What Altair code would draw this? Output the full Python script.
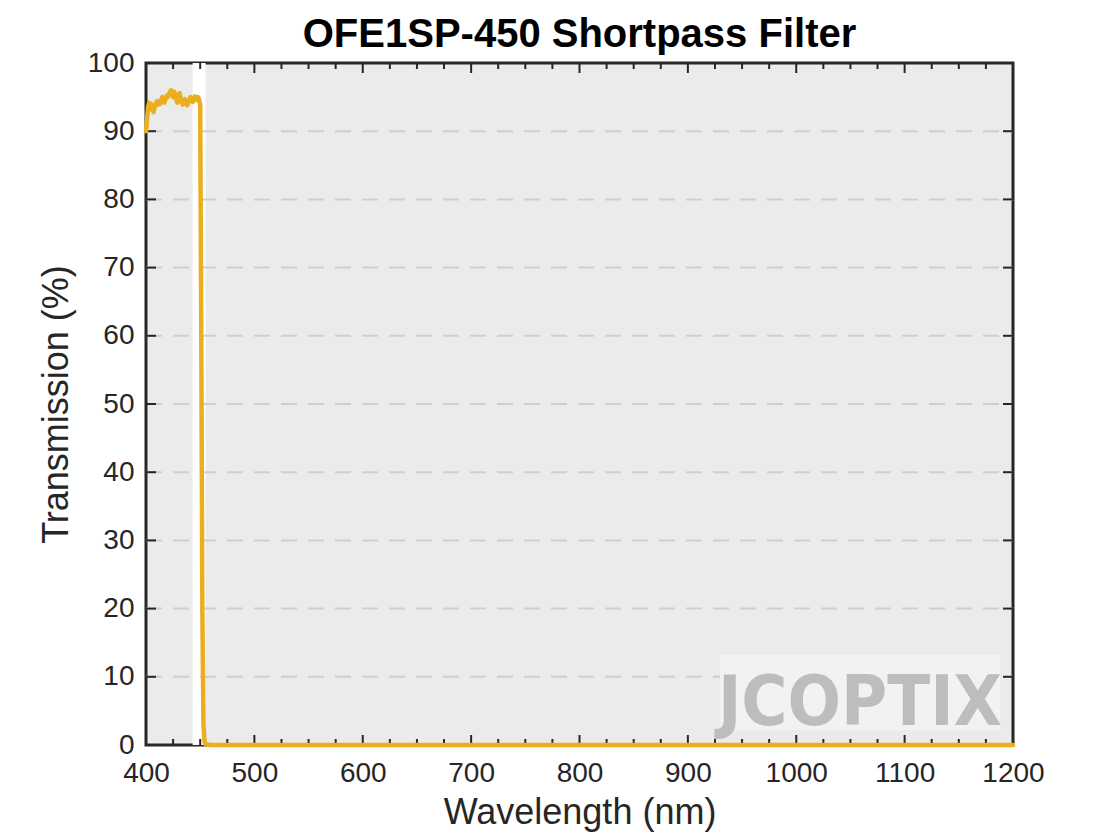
import altair as alt
import pandas as pd

# ---- data ----
wavelength = [400, 401, 402, 403, 404, 405, 406, 407, 408, 409, 410, 411, 412, 413, 414,
              415, 416, 417, 418, 419, 420, 421, 422, 423, 424, 425, 426, 427, 428, 429,
              430, 431, 432, 433, 434, 435, 436, 437, 438, 439, 440, 441, 442, 443, 444,
              445, 446, 447, 448, 449, 450, 451, 452, 453, 454, 455, 460, 500, 600, 700,
              800, 900, 1000, 1100, 1200]
transmission = [90.0, 91.8, 93.6, 94.2, 93.2, 94.0, 93.4, 92.8, 93.6, 93.8, 94.4, 93.9, 94.3,
                94.0, 94.6, 95.0, 94.6, 94.2, 94.8, 95.2, 95.0, 95.4, 95.7, 96.0, 95.6, 95.0,
                95.8, 95.2, 94.6, 94.2, 95.3, 95.6, 94.8, 94.2, 93.9, 94.4, 94.7, 94.1, 93.8,
                94.3, 94.6, 95.0, 94.8, 94.3, 94.5, 95.1, 94.8, 94.6, 95.0, 94.6, 93.8, 60.0,
                20.0, 3.0, 0.5, 0.1, 0.0, 0.0, 0.0, 0.0, 0.0, 0.0, 0.0, 0.0, 0.0]

band_start = [443]
band_end = [455]

x_major = [400, 500, 600, 700, 800, 900, 1000, 1100, 1200]
x_minor = [v for v in range(400, 1201, 25) if v % 100 != 0]
y_major = [0, 10, 20, 30, 40, 50, 60, 70, 80, 90, 100]
y_grid = [10, 20, 30, 40, 50, 60, 70, 80, 90]

title_text = "OFE1SP-450 Shortpass Filter"
x_title = "Wavelength (nm)"
y_title = "Transmission (%)"
watermark = "JCOPTIX"

W, H = 867, 682
FONT = "Liberation Sans"
DARK = "#262626"
LINE = "#EAAE1F"

df = pd.DataFrame({"wl": wavelength, "t": transmission})
band = pd.DataFrame({"a": band_start, "b": band_end})
xmaj = pd.DataFrame({"v": x_major})
xmin = pd.DataFrame({"v": x_minor})
ymaj = pd.DataFrame({"v": y_major})
ygrid = pd.DataFrame({"v": y_grid})

xscale = alt.Scale(domain=[400, 1200], nice=False, zero=False)
yscale = alt.Scale(domain=[0, 100], nice=False)

base_x = alt.X("wl:Q", scale=xscale, title=x_title,
               axis=alt.Axis(values=x_major, format="d", ticks=False, domain=False,
                             grid=False, labelFlush=False,
                             labelFontSize=28, labelFont=FONT, labelColor=DARK,
                             labelPadding=14, titleFont=FONT, titleFontSize=36,
                             titleFontWeight="normal", titleColor=DARK, titlePadding=8))
base_y = alt.Y("t:Q", scale=yscale, title=y_title,
               axis=alt.Axis(values=y_major, format="d", ticks=False, domain=False,
                             grid=False, labelFlush=False,
                             labelFontSize=28, labelFont=FONT, labelColor=DARK,
                             labelPadding=12, titleFont=FONT, titleFontSize=36,
                             titleFontWeight="normal", titleColor=DARK, titlePadding=12))

band_layer = alt.Chart(band).mark_rect(color="white").encode(
    x=alt.X("a:Q", scale=xscale), x2="b:Q",
    y=alt.value(0), y2=alt.value(H))

grid_layer = alt.Chart(ygrid).mark_rule(color="#cfcfcf", strokeWidth=2,
                                         strokeDash=[16, 11]).encode(
    y=alt.Y("v:Q", scale=yscale), x=alt.value(0), x2=alt.value(W))

line_layer = alt.Chart(df).mark_line(color=LINE, strokeWidth=4.5,
                                     strokeJoin="round", strokeCap="round").encode(
    x=base_x, y=base_y)

tick_w = 2
bot_major = alt.Chart(xmaj).mark_rule(color=DARK, strokeWidth=tick_w).encode(
    x=alt.X("v:Q", scale=xscale), y=alt.value(H), y2=alt.value(H - 10))
top_major = alt.Chart(xmaj).mark_rule(color=DARK, strokeWidth=tick_w).encode(
    x=alt.X("v:Q", scale=xscale), y=alt.value(0), y2=alt.value(10))
bot_minor = alt.Chart(xmin).mark_rule(color=DARK, strokeWidth=tick_w).encode(
    x=alt.X("v:Q", scale=xscale), y=alt.value(H), y2=alt.value(H - 6))
top_minor = alt.Chart(xmin).mark_rule(color=DARK, strokeWidth=tick_w).encode(
    x=alt.X("v:Q", scale=xscale), y=alt.value(0), y2=alt.value(6))
left_major = alt.Chart(ymaj).mark_rule(color=DARK, strokeWidth=tick_w).encode(
    y=alt.Y("v:Q", scale=yscale), x=alt.value(0), x2=alt.value(10))
right_major = alt.Chart(ymaj).mark_rule(color=DARK, strokeWidth=tick_w).encode(
    y=alt.Y("v:Q", scale=yscale), x=alt.value(W), x2=alt.value(W - 10))

wm_bg = alt.Chart(pd.DataFrame({"k": [0]})).mark_rect(color="#f2f2f2").encode(
    x=alt.value(574), x2=alt.value(854), y=alt.value(592), y2=alt.value(667))
wm = alt.Chart(pd.DataFrame({"s": [watermark]})).mark_text(
    font="'Liberation Sans Narrow', 'DejaVu Sans Condensed', 'Roboto Condensed', Roboto",
    fontWeight="bold", fontSize=70, color="#bdbdbd",
    align="center", baseline="alphabetic").encode(
    text="s:N", x=alt.value(714), y=alt.value(662))

chart = alt.layer(
    band_layer, grid_layer, wm_bg, wm,
    bot_minor, top_minor, bot_major, top_major, left_major, right_major,
    line_layer,
).properties(
    width=W, height=H,
    title=alt.TitleParams(title_text, font=FONT, fontSize=40, fontWeight="bold",
                          color="black", anchor="middle", offset=-6),
    autosize=alt.AutoSizeParams(type="none"),
    padding={"left": 138, "top": 55, "right": 99, "bottom": 90},
).configure_view(
    fill="#ebebeb", stroke=DARK, strokeWidth=3
)

chart.save("out.html", embed_options={"renderer": "svg", "actions": False})
